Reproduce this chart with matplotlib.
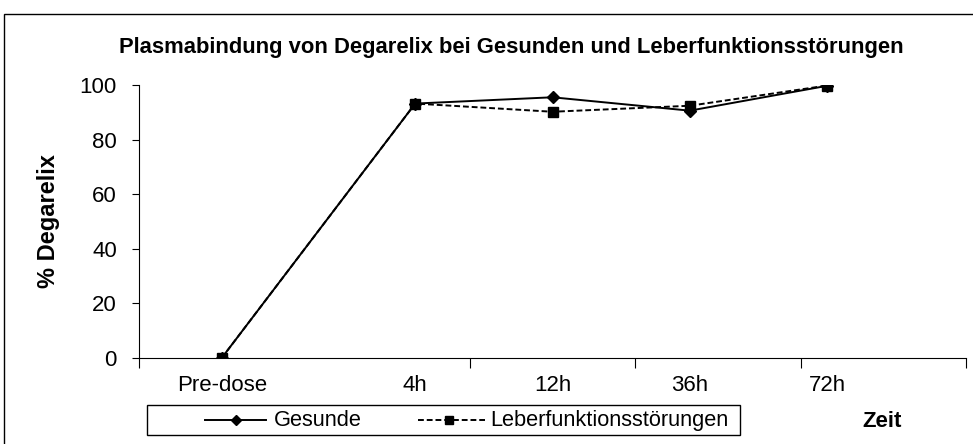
import matplotlib.pyplot as plt
from matplotlib.lines import Line2D
from matplotlib.patches import Rectangle

# Daten
zeitpunkte = ['Pre-dose', '4h', '12h', '36h', '72h']
x_pos = [0, 1.17, 2.0, 2.83, 3.66]   # Lage der Punkte auf der Kategorienachse
gesunde = [0, 93.2, 95.5, 90.6, 99.7]
leber = [0, 93.2, 90.2, 92.4, 99.8]
namen = ['Gesunde', 'Leberfunktionsstörungen']

plt.rcParams['font.family'] = ['Liberation Sans', 'DejaVu Sans']

W, H = 973, 444
fig = plt.figure(figsize=(W / 100, H / 100), dpi=100)
ax = fig.add_axes([139 / W, (H - 358) / H, (966 - 139) / W, (358 - 85) / H])


def fx(px):
    return px / W


def fy(py):
    return (H - py) / H


# Rahmen um die ganze Grafik
fig.patches.append(Rectangle((fx(4), -0.1), 1.2, fy(14) + 0.1,
                             transform=fig.transFigure, fill=False,
                             edgecolor='black', linewidth=1.0))

solid = '-'
dashed = (0, (3, 1.5))
ax.plot(x_pos, gesunde, color='black', linestyle=solid, linewidth=1.4,
        marker='D', markersize=6.5, zorder=3)
ax.plot(x_pos, leber, color='black', linestyle=dashed, linewidth=1.4,
        marker='s', markersize=7, zorder=3)

ax.set_xlim(-0.5, 4.5)
ax.set_ylim(0, 100)
ax.set_yticks([0, 20, 40, 60, 80, 100])
ax.set_xticks([-0.5, 1.5, 2.5, 3.5, 4.5])
ax.set_xticklabels([])
for xp, lab in zip(x_pos, zeitpunkte):
    ax.text(xp, -6.3, lab, ha='center', va='top', fontsize=16)

ax.spines['top'].set_visible(False)
ax.spines['right'].set_visible(False)
ax.tick_params(axis='y', direction='out', length=5, labelsize=16, pad=11)
ax.tick_params(axis='x', direction='out', length=7)
ax.set_ylabel('% Degarelix', fontsize=17, fontweight='bold', labelpad=14)

fig.text(fx(511), fy(47), 'Plasmabindung von Degarelix bei Gesunden und Leberfunktionsstörungen',
         ha='center', va='center', fontsize=15.8, fontweight='bold')

# Legende (von Hand gesetzt)
fig.patches.append(Rectangle((fx(147), fy(435)), fx(740 - 147), (435 - 405) / H,
                             transform=fig.transFigure, fill=False,
                             edgecolor='black', linewidth=1.0))
fig.add_artist(Line2D([fx(205), fx(236), fx(266)], [fy(420)] * 3, color='black',
                      linestyle=solid, linewidth=1.4, marker='D', markersize=5,
                      markevery=[1], transform=fig.transFigure))
fig.add_artist(Line2D([fx(418), fx(449), fx(485)], [fy(420)] * 3, color='black',
                      linestyle=dashed, linewidth=1.4, marker='s', markersize=5.5,
                      markevery=[1], transform=fig.transFigure))
fig.text(fx(274), fy(420), namen[0], ha='left', va='center', fontsize=15.7)
fig.text(fx(490), fy(420), namen[1], ha='left', va='center', fontsize=15.7)

fig.text(fx(882), fy(421), 'Zeit', ha='center', va='center',
         fontsize=16, fontweight='bold')

fig.savefig('out.png', dpi=100)
